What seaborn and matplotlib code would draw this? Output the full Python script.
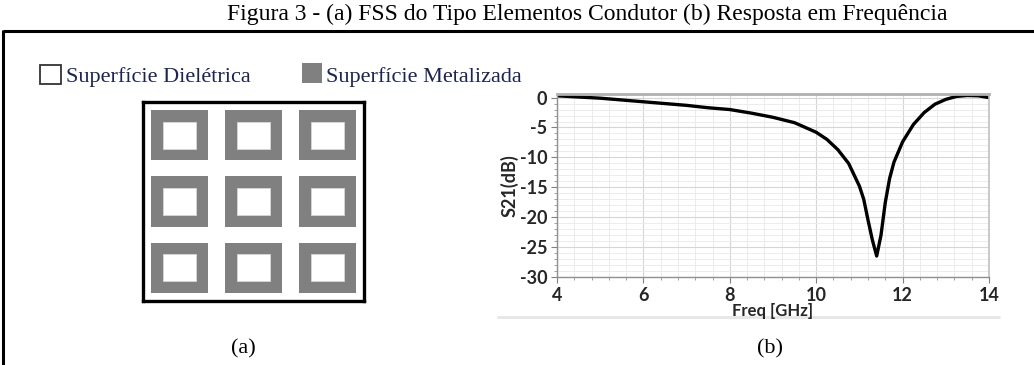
import numpy as np
import pandas as pd
import matplotlib
matplotlib.use("Agg")
import matplotlib.pyplot as plt
from matplotlib.patches import Rectangle
from matplotlib.ticker import MultipleLocator
import seaborn as sns

# ---------------- data ----------------
freq_ghz = [4.0, 4.5, 5.0, 5.5, 6.0, 6.5, 7.0, 7.5, 8.0, 8.5, 9.0, 9.5, 10.0,
            10.25, 10.5, 10.75, 11.0, 11.1, 11.2, 11.3, 11.4, 11.5, 11.6, 11.7,
            11.8, 12.0, 12.25, 12.5, 12.75, 13.0, 13.25, 13.5, 13.75, 14.0]
s21_db = [0.3, 0.1, -0.1, -0.4, -0.7, -1.0, -1.3, -1.7, -2.0, -2.6, -3.3, -4.2,
          -5.8, -7.0, -8.7, -11.0, -14.8, -17.0, -20.5, -23.8, -26.5, -23.0,
          -17.5, -13.5, -10.8, -7.4, -4.5, -2.5, -1.1, -0.3, 0.2, 0.35, 0.3, 0.0]
x_ticks = [4, 6, 8, 10, 12, 14]
y_ticks = [0, -5, -10, -15, -20, -25, -30]

fss_rows = [0, 1, 2]
fss_cols = [0, 1, 2]

title = "Figura 3 - (a) FSS do Tipo Elementos Condutor (b) Resposta em Frequência"
legend_labels = ["Superfície Dielétrica", "Superfície Metalizada"]
panel_labels = ["(a)", "(b)"]
x_label = "Freq [GHz]"
y_label = "S21(dB)"

# ---------------- figure ----------------
sns.set_theme(style="white")
plt.rcParams["font.family"] = ["DejaVu Sans"]
plt.rcParams["axes.unicode_minus"] = False
W, H = 1034, 365
fig = plt.figure(figsize=(W / 100, H / 100), dpi=100)
fig.patch.set_facecolor("white")

serif = ["Liberation Serif", "DejaVu Serif"]
sans_b = ["Lato", "DejaVu Sans"]

# background axes in pixel coordinates
bg = fig.add_axes([0, 0, 1, 1])
bg.set_xlim(0, W)
bg.set_ylim(H, 0)
bg.axis("off")

bg.text(587, 14, title, ha="center", va="center", fontsize=17,
        family=serif, color="black")
bg.plot([3, W], [31, 31], color="black", lw=2.2, solid_capstyle="butt")
bg.plot([3, 3], [30, H], color="black", lw=2.2, solid_capstyle="butt")

# legend for (a)
bg.add_patch(Rectangle((40, 65), 21, 19, facecolor="white", edgecolor="#333333", lw=1.3))
bg.text(66, 77, legend_labels[0], ha="left", va="center", fontsize=16,
        family=serif, color="#1c2452")
bg.add_patch(Rectangle((302, 63), 20, 20, facecolor="#808080", edgecolor="none"))
bg.text(326, 77, legend_labels[1], ha="left", va="center", fontsize=16,
        family=serif, color="#1c2452")

bg.text(243, 349, panel_labels[0], ha="center", va="center", fontsize=16,
        family=serif, color="black")
bg.text(770, 349, panel_labels[1], ha="center", va="center", fontsize=16,
        family=serif, color="black")
bg.plot([498, 999], [317, 317], color="#e6e6e6", lw=2.0)

# ---------------- FSS panel (a) ----------------
def px_rect(x0, y0, x1, y1):
    return [x0 / W, 1 - y1 / H, (x1 - x0) / W, (y1 - y0) / H]

axa = fig.add_axes(px_rect(143, 102, 364, 301))
axa.set_xlim(0, 3)
axa.set_ylim(3, 0)
axa.set_xticks([])
axa.set_yticks([])
for s in axa.spines.values():
    s.set_color("black")
    s.set_linewidth(2.4)
outer_w, outer_h = 0.77, 0.76
inner_w, inner_h = 0.45, 0.41
for r in fss_rows:
    for c in fss_cols:
        cx, cy = c + 0.5, r + 0.5
        axa.add_patch(Rectangle((cx - outer_w / 2, cy - outer_h / 2), outer_w, outer_h,
                                facecolor="#808080", edgecolor="none"))
        axa.add_patch(Rectangle((cx - inner_w / 2, cy - inner_h / 2), inner_w, inner_h,
                                facecolor="white", edgecolor="#d8d8d8", lw=0.6))

# ---------------- S21 panel (b) ----------------
axb = fig.add_axes(px_rect(557, 94, 989, 277))
df = pd.DataFrame({"freq": freq_ghz, "s21": s21_db})
sns.lineplot(data=df, x="freq", y="s21", ax=axb, color="black", lw=2.4)
axb.set_xlim(4, 14)
axb.set_ylim(-30, 0.6)
axb.set_xticks(x_ticks)
axb.set_yticks(y_ticks)
axb.xaxis.set_minor_locator(MultipleLocator(0.4))
axb.yaxis.set_minor_locator(MultipleLocator(1))
axb.grid(which="major", color="#d6d6d6", lw=0.8)
axb.grid(which="minor", color="#e9e9e9", lw=0.6)
axb.set_axisbelow(True)
axb.tick_params(axis="both", which="major", direction="out", length=4, width=0.8,
                color="#808080", labelsize=13, pad=3, left=True, bottom=True)
axb.tick_params(axis="both", which="minor", direction="out", length=2, width=0.6,
                color="#909090", left=True, bottom=True)
for lab in axb.get_xticklabels() + axb.get_yticklabels():
    lab.set_family(sans_b)
    lab.set_fontweight("bold")
axb.set_xlabel(x_label, family=sans_b, fontweight="bold", fontsize=12, labelpad=-0.5)
axb.set_ylabel(y_label, family=sans_b, fontweight="bold", fontsize=13, labelpad=1)
axb.spines["top"].set_color("#b0b0b0")
axb.spines["top"].set_linewidth(2.0)
axb.spines["right"].set_color("#c0c0c0")
axb.spines["right"].set_linewidth(1.2)
axb.spines["left"].set_color("#909090")
axb.spines["left"].set_linewidth(1.0)
axb.spines["bottom"].set_color("#909090")
axb.spines["bottom"].set_linewidth(1.0)

fig.savefig("out.png", dpi=100, facecolor="white")
